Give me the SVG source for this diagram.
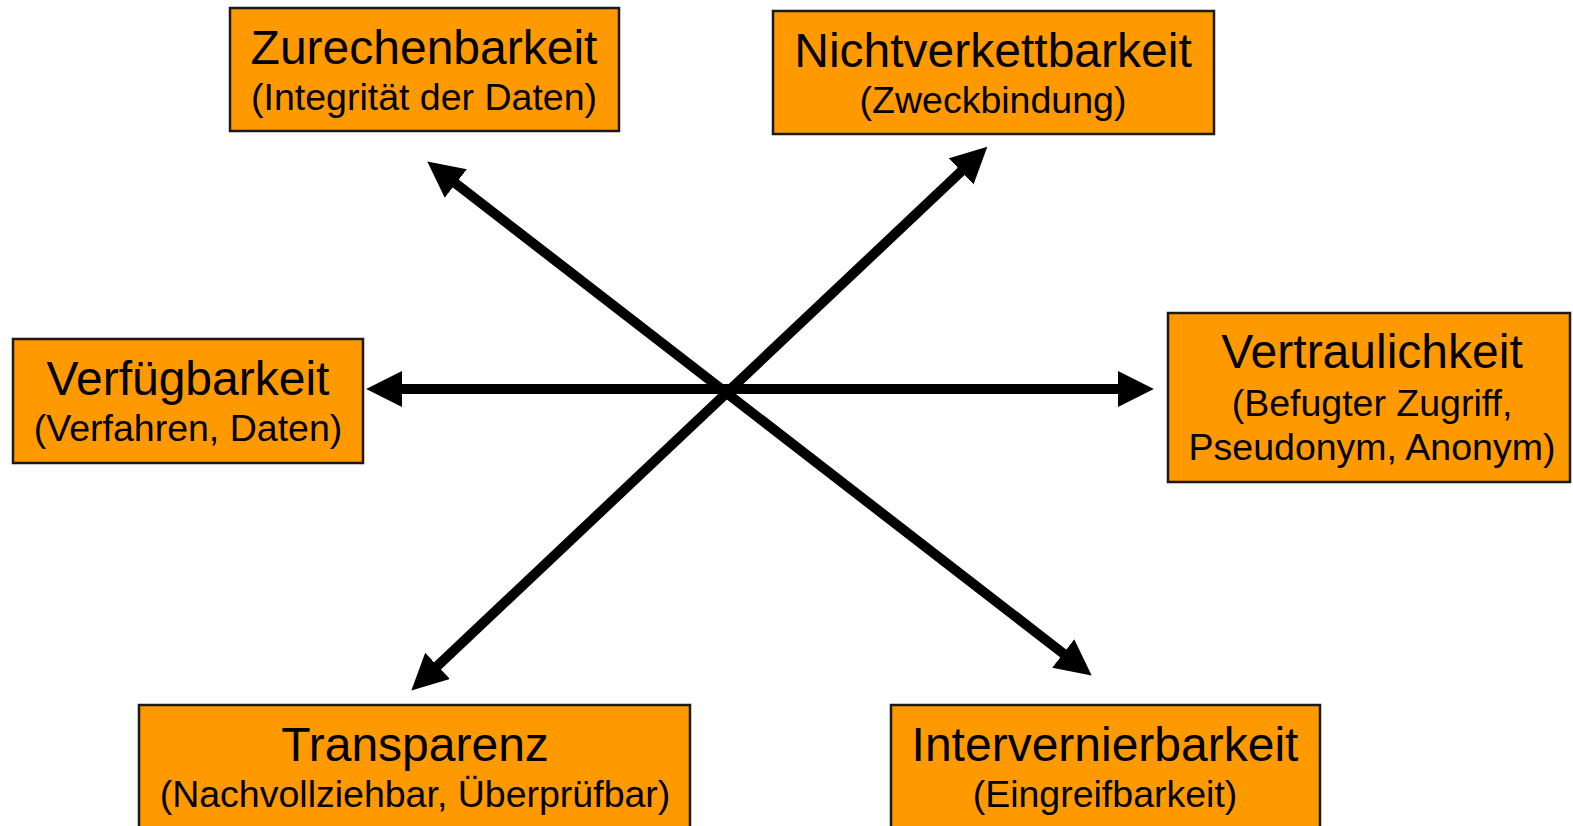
<svg xmlns="http://www.w3.org/2000/svg" width="1573" height="826" viewBox="0 0 1573 826">
  <style>
    .box { fill: #FF9900; stroke: #1a1a1a; stroke-width: 2.5; }
    .t1 { font-family: "Liberation Sans", Arial, sans-serif; font-size: 48px; fill: #000; text-anchor: middle; }
    .t2 { font-family: "Liberation Sans", Arial, sans-serif; font-size: 37.5px; fill: #000; text-anchor: middle; }
    .conn { stroke: #000; stroke-width: 10; fill: none; }
  </style>
  <defs>
    <marker id="ah" markerUnits="userSpaceOnUse" markerWidth="36" markerHeight="36" viewBox="0 0 35 35" refX="5" refY="17.5" orient="auto-start-reverse">
      <path d="M0,0 L35,17.5 L0,35 Z" fill="#000"/>
    </marker>
  </defs>
  <rect x="0" y="0" width="1573" height="826" fill="#fff"/>

  <g id="connectors">
    <line class="conn" x1="397" y1="389" x2="1123" y2="389" marker-start="url(#ah)" marker-end="url(#ah)"/>
    <line class="conn" x1="451.7" y1="180.4" x2="1067.3" y2="656.6" marker-start="url(#ah)" marker-end="url(#ah)"/>
    <line class="conn" x1="964.9" y1="167.9" x2="433.8" y2="669.4" marker-start="url(#ah)" marker-end="url(#ah)"/>
  </g>

  <g id="zurechenbarkeit">
    <rect class="box" x="230" y="8" width="389" height="123"/>
    <text class="t1" x="424" y="64">Zurechenbarkeit</text>
    <text class="t2" x="424" y="110">(Integrität der Daten)</text>
  </g>
  <g id="nichtverkettbarkeit">
    <rect class="box" x="773" y="11" width="441" height="123"/>
    <text class="t1" x="993" y="67">Nichtverkettbarkeit</text>
    <text class="t2" x="993" y="113">(Zweckbindung)</text>
  </g>
  <g id="verfuegbarkeit">
    <rect class="box" x="13" y="339" width="350" height="124"/>
    <text class="t1" x="188" y="395">Verfügbarkeit</text>
    <text class="t2" x="188" y="441">(Verfahren, Daten)</text>
  </g>
  <g id="vertraulichkeit">
    <rect class="box" x="1168" y="313" width="402" height="169"/>
    <text class="t1" x="1372" y="368">Vertraulichkeit</text>
    <text class="t2" x="1372" y="416">(Befugter Zugriff,</text>
    <text class="t2" x="1372" y="460">Pseudonym, Anonym)</text>
  </g>
  <g id="transparenz">
    <rect class="box" x="139" y="705" width="551" height="130"/>
    <text class="t1" x="415" y="761">Transparenz</text>
    <text class="t2" x="415" y="807">(Nachvollziehbar, Überprüfbar)</text>
  </g>
  <g id="intervernierbarkeit">
    <rect class="box" x="891" y="705" width="429" height="130"/>
    <text class="t1" x="1105" y="761">Intervernierbarkeit</text>
    <text class="t2" x="1105" y="807">(Eingreifbarkeit)</text>
  </g>
</svg>
